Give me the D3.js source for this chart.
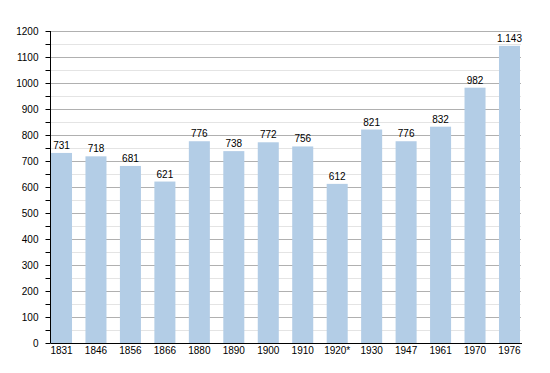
<!DOCTYPE html>
<html>
<head>
<meta charset="utf-8">
<script src="https://cdn.jsdelivr.net/npm/d3@7"></script>
<style>
  html, body { margin: 0; padding: 0; background: #fff; }
  svg text { font-family: "Liberation Sans", Arial, sans-serif; font-size: 10px; fill: #000; }
</style>
</head>
<body>
<svg id="chart" width="550" height="373"></svg>
<script>
const categories = ["1831","1846","1856","1866","1880","1890","1900","1910","1920*","1930","1947","1961","1970","1976"];
const values = [731, 718, 681, 621, 776, 738, 772, 756, 612, 821, 776, 832, 982, 1143];
const yTicks = [0,100,200,300,400,500,600,700,800,900,1000,1100,1200];
const yMinorTicks = [50,150,250,350,450,550,650,750,850,950,1050,1150];

(function () {
const svg = d3.select("#chart");
const mLeft = 50.5, mRight = 520, mTop = 31, mBottom = 343;

const x = d3.scaleBand().domain(categories).range([mLeft + 0.5, mRight]).paddingInner(0.39).paddingOuter(0);
const y = d3.scaleLinear().domain([0, 1200]).range([mBottom, mTop]);

const fmt = d3.formatLocale({decimal: ",", thousands: ".", grouping: [3], currency: ["", "€"]}).format(",d");

// minor gridlines
svg.append("g").selectAll("line").data(yMinorTicks).join("line")
  .attr("x1", mLeft).attr("x2", mRight + 1)
  .attr("y1", d => Math.round(y(d)) + 0.5).attr("y2", d => Math.round(y(d)) + 0.5)
  .attr("stroke", "#e4e4e4").attr("stroke-width", 1);
// major gridlines
svg.append("g").selectAll("line").data(yTicks.filter(d => d > 0)).join("line")
  .attr("x1", mLeft).attr("x2", mRight + 1)
  .attr("y1", d => Math.round(y(d)) + 0.5).attr("y2", d => Math.round(y(d)) + 0.5)
  .attr("stroke", "#b0b0b0").attr("stroke-width", 1);

// bars
svg.append("g").selectAll("rect").data(values).join("rect")
  .attr("x", (d, i) => x(categories[i]))
  .attr("width", x.bandwidth())
  .attr("y", d => y(d))
  .attr("height", d => y(0) - y(d))
  .attr("fill", "#b3cde6");

// value labels
svg.append("g").selectAll("text").data(values).join("text")
  .attr("x", (d, i) => x(categories[i]) + x.bandwidth() / 2)
  .attr("y", d => y(d) - 4)
  .attr("text-anchor", "middle")
  .text(d => fmt(d));

// y axis
const yAxis = d3.axisLeft(y).tickValues(yTicks).tickSize(5).tickPadding(7).tickFormat(d3.format("d"));
const gy = svg.append("g").attr("transform", `translate(${mLeft},0)`).call(yAxis);
gy.select(".domain").attr("stroke", "#000").attr("d", `M0,${mTop}V${mBottom}`);
gy.selectAll(".tick line").attr("stroke", "#000");
gy.selectAll("text").attr("font-size", "10px").attr("font-family", "Liberation Sans, Arial, sans-serif");
const gyMinor = svg.append("g").attr("transform", `translate(${mLeft},0)`)
  .call(d3.axisLeft(y).tickValues(yMinorTicks).tickSize(5).tickFormat(""));
gyMinor.select(".domain").remove();
gyMinor.selectAll(".tick line").attr("stroke", "#000");

// x axis
const xAxis = d3.axisBottom(x).tickSize(0).tickPadding(4);
const gx = svg.append("g").attr("transform", `translate(0,${mBottom})`).call(xAxis);
gx.select(".domain").attr("stroke", "#000").attr("d", `M${mLeft},0.5H${mRight + 2}`);
gx.selectAll("text").attr("font-size", "10px").attr("font-family", "Liberation Sans, Arial, sans-serif");
})();
</script>
</body>
</html>
